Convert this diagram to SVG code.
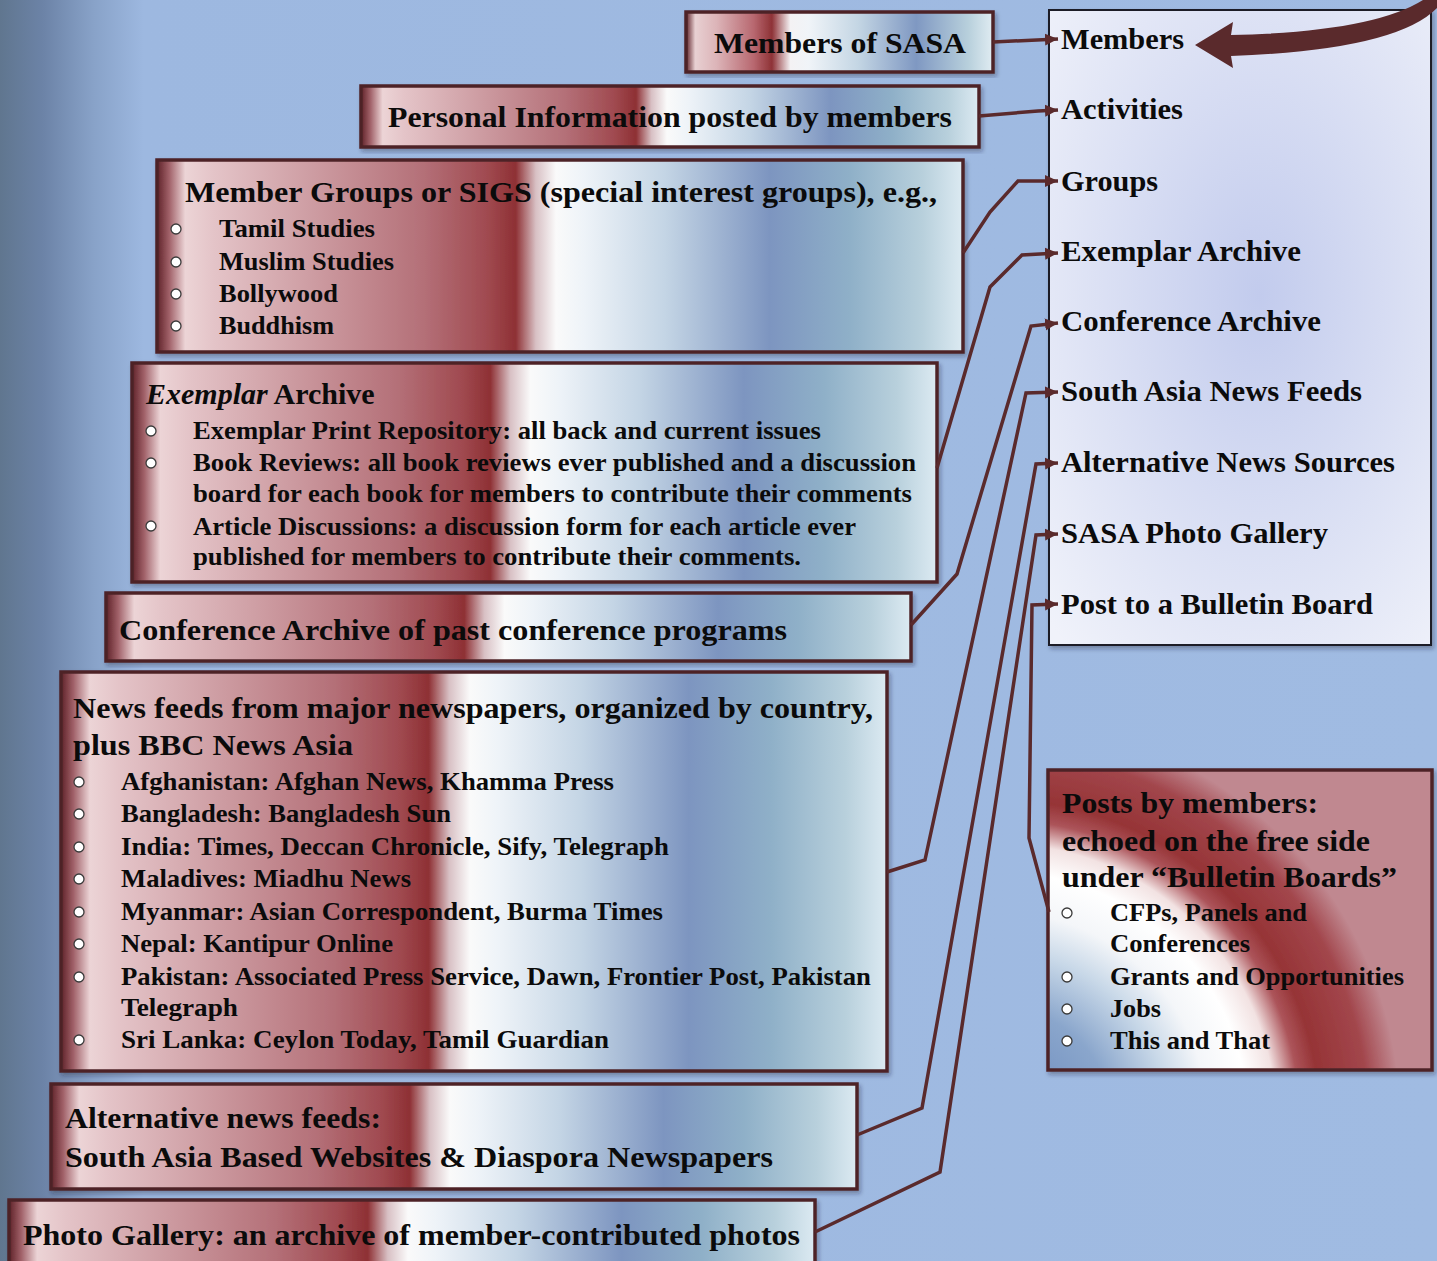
<svg xmlns="http://www.w3.org/2000/svg" width="1437" height="1261" viewBox="0 0 1437 1261">
<defs>
<style>
.t{font-family:"Liberation Serif","Times New Roman",serif;font-weight:bold;fill:#0b0b0b}
.h{font-size:30px}
.b{font-size:26px}
.box{stroke:#4e2428;stroke-width:3.5}
.bul{fill:#ffffff;stroke:#3a3a3a;stroke-width:1.3}
.con{fill:none;stroke:#5a2a2c;stroke-width:3.5;stroke-linejoin:miter}
</style>
<linearGradient id="bg" x1="0" y1="0" x2="1" y2="0">
<stop offset="0" stop-color="#60768f"/>
<stop offset="0.03" stop-color="#6c83a7"/>
<stop offset="0.065" stop-color="#88a2c8"/>
<stop offset="0.1" stop-color="#9db8e0"/>
<stop offset="1" stop-color="#a0bbe2"/>
</linearGradient>
<linearGradient id="g1" x1="0" y1="0" x2="1" y2="0">
<stop offset="0" stop-color="#5e2228"/>
<stop offset="0.015" stop-color="#a06068"/>
<stop offset="0.035" stop-color="#ecd4d6"/>
<stop offset="0.07" stop-color="#e4c4c8"/>
<stop offset="0.2" stop-color="#cc9aa0"/>
<stop offset="0.33" stop-color="#b47078"/>
<stop offset="0.41" stop-color="#a04a50"/>
<stop offset="0.445" stop-color="#8e3034"/>
<stop offset="0.47" stop-color="#d8c0c4"/>
<stop offset="0.495" stop-color="#fafafa"/>
<stop offset="0.53" stop-color="#eef3f8"/>
<stop offset="0.63" stop-color="#c4d5e5"/>
<stop offset="0.76" stop-color="#7d95c0"/>
<stop offset="0.86" stop-color="#8fb0c8"/>
<stop offset="0.95" stop-color="#b8d0dc"/>
<stop offset="1" stop-color="#dceaf2"/>
</linearGradient>
<linearGradient id="g2" x1="0" y1="0" x2="1" y2="0">
<stop offset="0" stop-color="#5e2228"/>
<stop offset="0.03" stop-color="#e8d0d2"/>
<stop offset="0.1" stop-color="#dcb4b8"/>
<stop offset="0.22" stop-color="#b86870"/>
<stop offset="0.28" stop-color="#8e3236"/>
<stop offset="0.34" stop-color="#f4f2f4"/>
<stop offset="0.4" stop-color="#f0f4f8"/>
<stop offset="0.56" stop-color="#c4d6e4"/>
<stop offset="0.75" stop-color="#7f98c2"/>
<stop offset="0.92" stop-color="#b8d0dc"/>
<stop offset="1" stop-color="#e0ecf2"/>
</linearGradient>
<radialGradient id="g3" gradientUnits="userSpaceOnUse" cx="1000" cy="1120" r="400">
<stop offset="0" stop-color="#6585ba"/>
<stop offset="0.28" stop-color="#8aa6cc"/>
<stop offset="0.42" stop-color="#c8d8e8"/>
<stop offset="0.52" stop-color="#f4f6f9"/>
<stop offset="0.62" stop-color="#ffffff"/>
<stop offset="0.69" stop-color="#f2e2e2"/>
<stop offset="0.75" stop-color="#ac545a"/>
<stop offset="0.8" stop-color="#963436"/>
<stop offset="0.92" stop-color="#a2464c"/>
<stop offset="1" stop-color="#c08890"/>
</radialGradient>
<radialGradient id="g4" cx="0.55" cy="0.45" r="0.75">
<stop offset="0" stop-color="#c2cbed"/>
<stop offset="1" stop-color="#f0f2fa"/>
</radialGradient>
<filter id="sh" x="-5%" y="-5%" width="110%" height="115%">
<feDropShadow dx="2" dy="3" stdDeviation="2" flood-color="#1a2030" flood-opacity="0.35"/>
</filter>
<marker id="ar" markerUnits="userSpaceOnUse" markerWidth="14" markerHeight="14" refX="13" refY="7" orient="auto">
<path d="M0,1 L13,7 L0,13 Z" fill="#5a2a2c"/>
</marker>
</defs>

<rect x="0" y="0" width="1437" height="1261" fill="url(#bg)"/>

<g id="list">
<rect x="1049" y="10" width="382" height="635" fill="url(#g4)" stroke="#1c1c28" stroke-width="2" filter="url(#sh)"/>
<text class="t h" x="1061" y="49" textLength="123" lengthAdjust="spacingAndGlyphs">Members</text>
<text class="t h" x="1061" y="119" textLength="122" lengthAdjust="spacingAndGlyphs">Activities</text>
<text class="t h" x="1061" y="191" textLength="97" lengthAdjust="spacingAndGlyphs">Groups</text>
<text class="t h" x="1061" y="261" textLength="240" lengthAdjust="spacingAndGlyphs">Exemplar Archive</text>
<text class="t h" x="1061" y="331" textLength="260" lengthAdjust="spacingAndGlyphs">Conference Archive</text>
<text class="t h" x="1061" y="401" textLength="301" lengthAdjust="spacingAndGlyphs">South Asia News Feeds</text>
<text class="t h" x="1061" y="472" textLength="334" lengthAdjust="spacingAndGlyphs">Alternative News Sources</text>
<text class="t h" x="1061" y="543" textLength="267" lengthAdjust="spacingAndGlyphs">SASA Photo Gallery</text>
<text class="t h" x="1061" y="614" textLength="312" lengthAdjust="spacingAndGlyphs">Post to a Bulletin Board</text>
</g>

<g id="sasa">
<rect class="box" x="686" y="12" width="307" height="60" fill="url(#g2)" filter="url(#sh)"/>
<text class="t h" x="714" y="53" textLength="252" lengthAdjust="spacingAndGlyphs">Members of SASA</text>
</g>

<g id="personal">
<rect class="box" x="361" y="86" width="618" height="61" fill="url(#g1)" filter="url(#sh)"/>
<text class="t h" x="388" y="127" textLength="564" lengthAdjust="spacingAndGlyphs">Personal Information posted by members</text>
</g>

<g id="groups">
<rect class="box" x="157" y="160" width="806" height="192" fill="url(#g1)" filter="url(#sh)"/>
<text class="t h" x="185" y="202" textLength="752" lengthAdjust="spacingAndGlyphs">Member Groups or SIGS (special interest groups), e.g.,</text>
<circle class="bul" cx="176" cy="229" r="5"/>
<circle class="bul" cx="176" cy="262" r="5"/>
<circle class="bul" cx="176" cy="294" r="5"/>
<circle class="bul" cx="176" cy="326" r="5"/>
<text class="t b" x="219" y="237" textLength="156" lengthAdjust="spacingAndGlyphs">Tamil Studies</text>
<text class="t b" x="219" y="270" textLength="175" lengthAdjust="spacingAndGlyphs">Muslim Studies</text>
<text class="t b" x="219" y="302" textLength="119" lengthAdjust="spacingAndGlyphs">Bollywood</text>
<text class="t b" x="219" y="334" textLength="115" lengthAdjust="spacingAndGlyphs">Buddhism</text>
</g>

<g id="exemplar">
<rect class="box" x="132" y="363" width="805" height="219" fill="url(#g1)" filter="url(#sh)"/>
<text class="t h" x="146" y="404"><tspan font-style="italic">Exemplar</tspan> Archive</text>
<circle class="bul" cx="151" cy="431" r="5"/>
<circle class="bul" cx="151" cy="463" r="5"/>
<circle class="bul" cx="151" cy="526" r="5"/>
<text class="t b" x="193" y="439" textLength="628" lengthAdjust="spacingAndGlyphs">Exemplar Print Repository: all back and current issues</text>
<text class="t b" x="193" y="471" textLength="723" lengthAdjust="spacingAndGlyphs">Book Reviews: all book reviews ever published and a discussion</text>
<text class="t b" x="193" y="502" textLength="719" lengthAdjust="spacingAndGlyphs">board for each book for members to contribute their comments</text>
<text class="t b" x="193" y="535" textLength="663" lengthAdjust="spacingAndGlyphs">Article Discussions: a discussion form for each article ever</text>
<text class="t b" x="193" y="565" textLength="608" lengthAdjust="spacingAndGlyphs">published for members to contribute their comments.</text>
</g>

<g id="conference">
<rect class="box" x="106" y="593" width="805" height="68" fill="url(#g1)" filter="url(#sh)"/>
<text class="t h" x="119" y="640" textLength="668" lengthAdjust="spacingAndGlyphs">Conference Archive of past conference programs</text>
</g>

<g id="news">
<rect class="box" x="61" y="672" width="826" height="399" fill="url(#g1)" filter="url(#sh)"/>
<text class="t h" x="73" y="718" textLength="800" lengthAdjust="spacingAndGlyphs">News feeds from major newspapers, organized by country,</text>
<text class="t h" x="73" y="755" textLength="280" lengthAdjust="spacingAndGlyphs">plus BBC News Asia</text>
<circle class="bul" cx="79" cy="782" r="5"/>
<circle class="bul" cx="79" cy="814" r="5"/>
<circle class="bul" cx="79" cy="847" r="5"/>
<circle class="bul" cx="79" cy="879" r="5"/>
<circle class="bul" cx="79" cy="912" r="5"/>
<circle class="bul" cx="79" cy="944" r="5"/>
<circle class="bul" cx="79" cy="977" r="5"/>
<circle class="bul" cx="79" cy="1040" r="5"/>
<text class="t b" x="121" y="790" textLength="493" lengthAdjust="spacingAndGlyphs">Afghanistan: Afghan News, Khamma Press</text>
<text class="t b" x="121" y="822" textLength="330" lengthAdjust="spacingAndGlyphs">Bangladesh: Bangladesh Sun</text>
<text class="t b" x="121" y="855" textLength="548" lengthAdjust="spacingAndGlyphs">India: Times, Deccan Chronicle, Sify, Telegraph</text>
<text class="t b" x="121" y="887" textLength="290" lengthAdjust="spacingAndGlyphs">Maladives: Miadhu News</text>
<text class="t b" x="121" y="920" textLength="542" lengthAdjust="spacingAndGlyphs">Myanmar: Asian Correspondent, Burma Times</text>
<text class="t b" x="121" y="952" textLength="272" lengthAdjust="spacingAndGlyphs">Nepal: Kantipur Online</text>
<text class="t b" x="121" y="985" textLength="750" lengthAdjust="spacingAndGlyphs">Pakistan: Associated Press Service, Dawn, Frontier Post, Pakistan</text>
<text class="t b" x="121" y="1016" textLength="117" lengthAdjust="spacingAndGlyphs">Telegraph</text>
<text class="t b" x="121" y="1048" textLength="488" lengthAdjust="spacingAndGlyphs">Sri Lanka: Ceylon Today, Tamil Guardian</text>
</g>

<g id="alternative">
<rect class="box" x="51" y="1084" width="806" height="105" fill="url(#g1)" filter="url(#sh)"/>
<text class="t h" x="65" y="1128" textLength="316" lengthAdjust="spacingAndGlyphs">Alternative news feeds:</text>
<text class="t h" x="65" y="1167" textLength="708" lengthAdjust="spacingAndGlyphs">South Asia Based Websites &amp; Diaspora Newspapers</text>
</g>

<g id="photo">
<rect class="box" x="9" y="1200" width="806" height="70" fill="url(#g1)" filter="url(#sh)"/>
<text class="t h" x="23" y="1245" textLength="777" lengthAdjust="spacingAndGlyphs">Photo Gallery: an archive of member-contributed photos</text>
</g>

<g id="posts">
<rect class="box" x="1048" y="770" width="384" height="300" fill="url(#g3)" filter="url(#sh)"/>
<text class="t h" x="1062" y="813" textLength="256" lengthAdjust="spacingAndGlyphs">Posts by members:</text>
<text class="t h" x="1062" y="851" textLength="308" lengthAdjust="spacingAndGlyphs">echoed on the free side</text>
<text class="t h" x="1062" y="887" textLength="335" lengthAdjust="spacingAndGlyphs">under “Bulletin Boards”</text>
<circle class="bul" cx="1067" cy="913" r="5"/>
<circle class="bul" cx="1067" cy="977" r="5"/>
<circle class="bul" cx="1067" cy="1009" r="5"/>
<circle class="bul" cx="1067" cy="1041" r="5"/>
<text class="t b" x="1110" y="921" textLength="197" lengthAdjust="spacingAndGlyphs">CFPs, Panels and</text>
<text class="t b" x="1110" y="952" textLength="140" lengthAdjust="spacingAndGlyphs">Conferences</text>
<text class="t b" x="1110" y="985" textLength="294" lengthAdjust="spacingAndGlyphs">Grants and Opportunities</text>
<text class="t b" x="1110" y="1017" textLength="51" lengthAdjust="spacingAndGlyphs">Jobs</text>
<text class="t b" x="1110" y="1049" textLength="160" lengthAdjust="spacingAndGlyphs">This and That</text>
</g>

<g id="connectors">
<path class="con" marker-end="url(#ar)" d="M993,42 L1058,39"/>
<path class="con" marker-end="url(#ar)" d="M979,116 L1038,111 L1058,110"/>
<path class="con" marker-end="url(#ar)" d="M963,253 L990,212 L1018,181 L1058,181"/>
<path class="con" marker-end="url(#ar)" d="M937,468 L990,287 L1022,255 L1058,253"/>
<path class="con" marker-end="url(#ar)" d="M911,625 L957,574 L1031,326 L1058,323"/>
<path class="con" marker-end="url(#ar)" d="M887,872 L925,860 L1026,393 L1058,392"/>
<path class="con" marker-end="url(#ar)" d="M857,1135 L922,1108 L1036,464 L1058,463"/>
<path class="con" marker-end="url(#ar)" d="M815,1232 L940,1172 L1036,535 L1058,534"/>
<path class="con" marker-end="url(#ar)" d="M1049,912 L1029,838 L1032,605 L1058,604"/>
<path d="M1195,45 L1233,22 L1231,35 Q1372,32 1423,0 L1437,0 L1437,8 Q1396,50 1231,56 L1233,68 Z" fill="#5a2a2c"/>
</g>
</svg>
